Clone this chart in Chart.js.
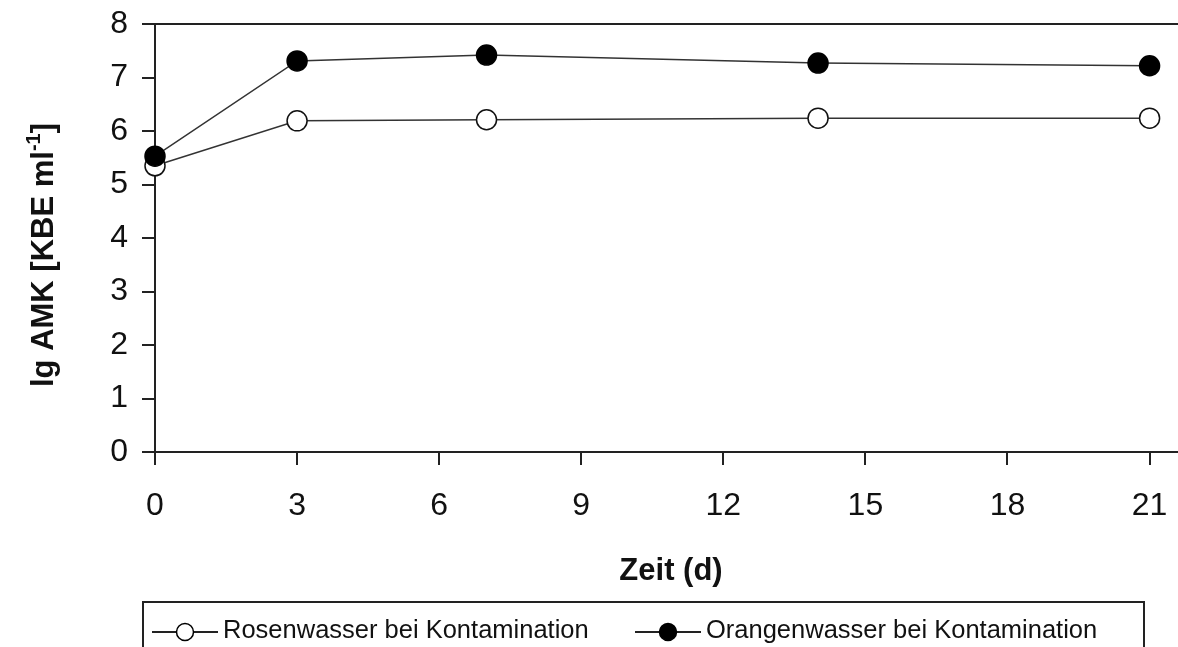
<!DOCTYPE html>
<html>
<head>
<meta charset="utf-8">
<script src="https://cdn.jsdelivr.net/npm/chart.js@4/dist/chart.umd.min.js"></script>
<style>
  body { margin: 0; background: #fff; }
  canvas { display: block; }
</style>
</head>
<body>
<canvas id="amk-chart" width="1178" height="647"></canvas>
<script>
// Tage der Probenahme
const days = [0, 3, 7, 14, 21];
// lg AMK [KBE/ml]
const rosenwasser = [5.35, 6.19, 6.21, 6.24, 6.24];
const orangenwasser = [5.53, 7.31, 7.42, 7.27, 7.22];

const xTicks = [0, 3, 6, 9, 12, 15, 18, 21];
const yTicks = [0, 1, 2, 3, 4, 5, 6, 7, 8];

const labelRosen = "Rosenwasser bei Kontamination";
const labelOrange = "Orangenwasser bei Kontamination";
const xTitle = "Zeit (d)";

const fontFamily = 'Arial, "Liberation Sans", sans-serif';
const ink = "#111";
const axisColor = "#222";

// Rahmen oben, Achsentitel und Legende
const extras = {
  id: "extras",
  beforeDatasetsDraw(chart) {
    const ctx = chart.ctx;
    const a = chart.chartArea;
    ctx.save();
    ctx.strokeStyle = axisColor;
    ctx.lineWidth = 2;
    ctx.beginPath();
    ctx.moveTo(a.left, a.top);
    ctx.lineTo(a.right, a.top);
    ctx.stroke();
    ctx.restore();
  },
  afterDraw(chart) {
    const ctx = chart.ctx;
    const a = chart.chartArea;
    ctx.save();
    ctx.fillStyle = ink;

    // x-Achsentitel
    ctx.font = "bold 31px " + fontFamily;
    ctx.textAlign = "center";
    ctx.textBaseline = "middle";
    ctx.fillText(xTitle, 671, 571);

    // y-Achsentitel mit Hochzahl
    const main = "lg AMK [KBE ml";
    const sup = "-1";
    const end = "]";
    ctx.font = "bold 31px " + fontFamily;
    const wMain = ctx.measureText(main).width;
    const wEnd = ctx.measureText(end).width;
    ctx.font = "bold 20px " + fontFamily;
    const wSup = ctx.measureText(sup).width;
    const total = wMain + wSup + wEnd;
    ctx.translate(44, 255);
    ctx.rotate(-Math.PI / 2);
    ctx.textAlign = "left";
    ctx.textBaseline = "middle";
    let x = -total / 2;
    ctx.font = "bold 31px " + fontFamily;
    ctx.fillText(main, x, 0);
    x += wMain;
    ctx.font = "bold 20px " + fontFamily;
    ctx.fillText(sup, x, -10);
    x += wSup;
    ctx.font = "bold 31px " + fontFamily;
    ctx.fillText(end, x, 0);
    ctx.setTransform(1, 0, 0, 1, 0, 0);

    // Legende
    ctx.strokeStyle = axisColor;
    ctx.lineWidth = 2;
    ctx.strokeRect(143, 602, 1001, 70);
    const items = [
      { text: labelRosen, x: 152, fill: "#fff" },
      { text: labelOrange, x: 635, fill: "#000" }
    ];
    const ly = 632;
    items.forEach((it) => {
      ctx.strokeStyle = "#222";
      ctx.lineWidth = 2;
      ctx.beginPath();
      ctx.moveTo(it.x, ly);
      ctx.lineTo(it.x + 66, ly);
      ctx.stroke();
      ctx.beginPath();
      ctx.arc(it.x + 33, ly, 8.5, 0, Math.PI * 2);
      ctx.fillStyle = it.fill;
      ctx.fill();
      ctx.lineWidth = 1.5;
      ctx.strokeStyle = "#000";
      ctx.stroke();
      ctx.fillStyle = ink;
      ctx.font = "25.5px " + fontFamily;
      ctx.textAlign = "left";
      ctx.textBaseline = "middle";
      ctx.fillText(it.text, it.x + 71, ly - 1);
    });
    ctx.restore();
  }
};

const amkChart = new Chart(document.querySelector("#amk-chart"), {
  type: "line",
  data: {
    datasets: [
      {
        label: labelOrange,
        data: days.map((d, i) => ({ x: d, y: orangenwasser[i] })),
        borderColor: "#333",
        borderWidth: 1.5,
        backgroundColor: "#000",
        pointBackgroundColor: "#000",
        pointBorderColor: "#000",
        pointRadius: 10,
        pointBorderWidth: 1.5,
        clip: false,
        order: 0
      },
      {
        label: labelRosen,
        data: days.map((d, i) => ({ x: d, y: rosenwasser[i] })),
        borderColor: "#333",
        borderWidth: 1.5,
        backgroundColor: "#fff",
        pointBackgroundColor: "#fff",
        pointBorderColor: "#111",
        pointRadius: 10,
        pointBorderWidth: 1.5,
        clip: false,
        order: 1
      }
    ]
  },
  options: {
    responsive: false,
    animation: false,
    layout: { autoPadding: false, padding: { top: 24, right: 0, left: 0, bottom: 0 } },
    plugins: {
      legend: { display: false },
      tooltip: { enabled: false }
    },
    scales: {
      x: {
        type: "linear",
        min: 0,
        max: 21.6,
        afterBuildTicks: (scale) => {
          scale.ticks = xTicks.map((v) => ({ value: v }));
        },
        afterFit: (scale) => {
          scale.height = 195;
          scale.paddingLeft = 0;
          scale.paddingRight = 0;
        },
        ticks: {
          color: ink,
          padding: 22,
          maxRotation: 0,
          autoSkip: false,
          font: { family: fontFamily, size: 32 }
        },
        grid: {
          drawOnChartArea: false,
          tickLength: 13,
          color: axisColor,
          lineWidth: 2
        },
        border: { display: true, color: axisColor, width: 2 }
      },
      y: {
        min: 0,
        max: 8,
        afterBuildTicks: (scale) => {
          scale.ticks = yTicks.map((v) => ({ value: v }));
        },
        afterFit: (scale) => {
          scale.width = 155;
          scale.paddingTop = 0;
          scale.paddingBottom = 0;
        },
        ticks: {
          color: ink,
          padding: 14,
          font: { family: fontFamily, size: 32 }
        },
        grid: {
          drawOnChartArea: false,
          tickLength: 13,
          color: axisColor,
          lineWidth: 2
        },
        border: { display: true, color: axisColor, width: 2 }
      }
    }
  },
  plugins: [extras]
});
</script>
</body>
</html>
